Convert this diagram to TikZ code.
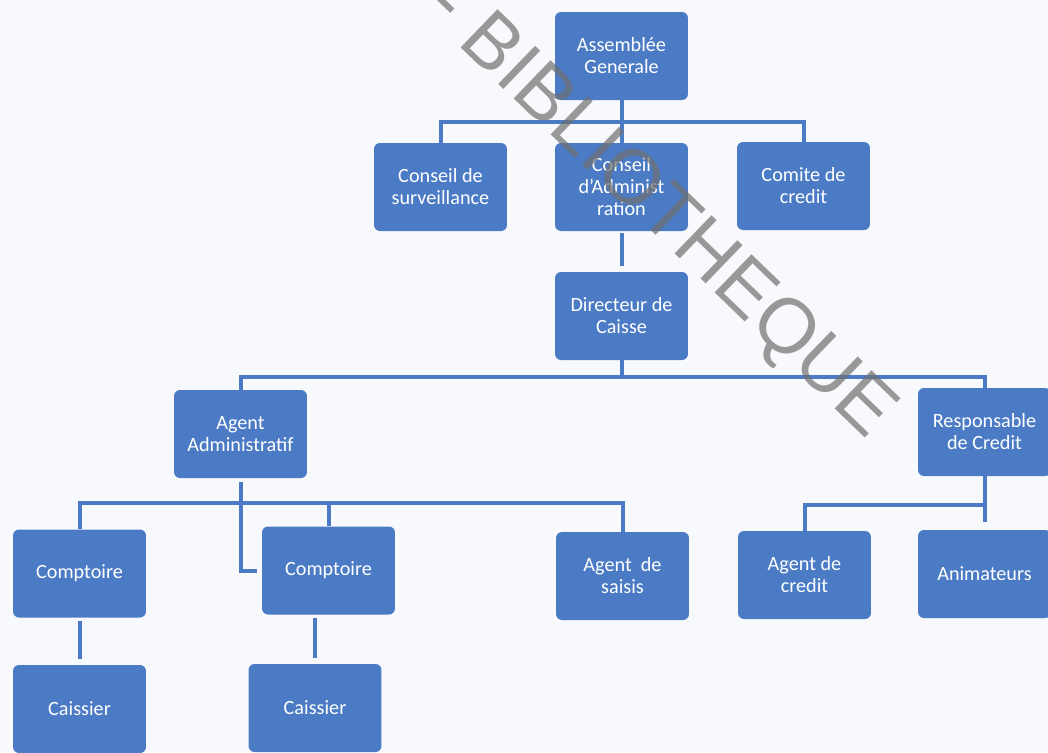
\documentclass[tikz,border=0pt]{standalone}
\usepackage{fontspec}
\setmainfont{Carlito}
\newfontfamily\stampfont{Liberation Sans}
\usepackage{tikz}
\definecolor{boxblue}{HTML}{4B7BC5}
\definecolor{paper}{HTML}{F7F9FC}
\definecolor{stampgray}{HTML}{707070}
\tikzset{
  unit/.style={fill=boxblue,rounded corners=0.12cm,minimum width=2.66cm,minimum height=1.76cm,
    inner sep=0pt,align=center,text=white,font=\fontsize{11.5}{12.5}\selectfont},
  link/.style={draw=boxblue,line width=0.08cm},
  stamp/.style={text=stampgray,text opacity=0.7,inner sep=0pt,rotate=-44,font=\stampfont\fontsize{44}{44}\selectfont}
}

\begin{document}
\begin{tikzpicture}[x=0.02cm,y=-0.02cm]
\fill[paper] (0,0) rectangle (1048,752);
\useasboundingbox (0,0) rectangle (1048,752);
% boxes
\node[unit] (ag) at (621.5,56) {Assemblée\\Generale};
\node[unit] (cs) at (440.5,187) {Conseil de\\surveillance};
\node[unit] (ca) at (621.5,187) {Conseil\\d'Administ\\ration};
\node[unit] (cc) at (803.5,186) {Comite de\\credit};
\node[unit] (dc) at (621.5,316) {Directeur de\\Caisse};
\node[unit] (aa) at (240.5,434) {Agent\\Administratif};
\node[unit] (rc) at (984.5,432) {Responsable\\de Credit};
\node[unit] (cp1) at (79.5,573.5) {Comptoire};
\node[unit] (cp2) at (328.5,570.5) {Comptoire};
\node[unit] (sa) at (622.5,576) {Agent~ de\\saisis};
\node[unit] (ac) at (804.5,575) {Agent de\\credit};
\node[unit] (an) at (984.5,574) {Animateurs};
\node[unit] (cs1) at (79.5,709) {Caissier};
\node[unit] (cs2) at (315,708) {Caissier};
% links
\coordinate (agbus) at (621.5,122);
\draw[link] (ag.south) -- (agbus);
\draw[link] (cs.north) |- (agbus) -| (cc.north);
\draw[link] (agbus) -- (ca.north);
\draw[link,shorten <=0.04cm,shorten >=0.12cm] (ca.south) -- (dc.north);
\coordinate (dcbus) at (621.5,377);
\draw[link] (dc.south) -- (dcbus);
\draw[link] (aa.north) |- (dcbus) -| (rc.north);
\coordinate (aabus) at (240.5,503);
\draw[link,shorten <=0.08cm,shorten >=0.1cm] (aa.south) |- (cp2.west);
\draw[link] (cp1.north) |- (aabus) -| (sa.north);
\draw[link] (aabus) -| (cp2.north);
\coordinate (rcbus) at (984.5,505);
\draw[link,shorten >=0.16cm] (rc.south) -- (an.north);
\draw[link] (ac.north) |- (rcbus);
\draw[link,shorten <=0.06cm,shorten >=0.12cm] (cp1.south) -- (cs1.north);
\draw[link,shorten <=0.06cm,shorten >=0.12cm] (cp2.south -| cs2.north) -- (cs2.north);
% watermark
\node[stamp] (wm) at (676,228) {\llap{- }BIBLIOTHEQUE};
\end{tikzpicture}
\end{document}
